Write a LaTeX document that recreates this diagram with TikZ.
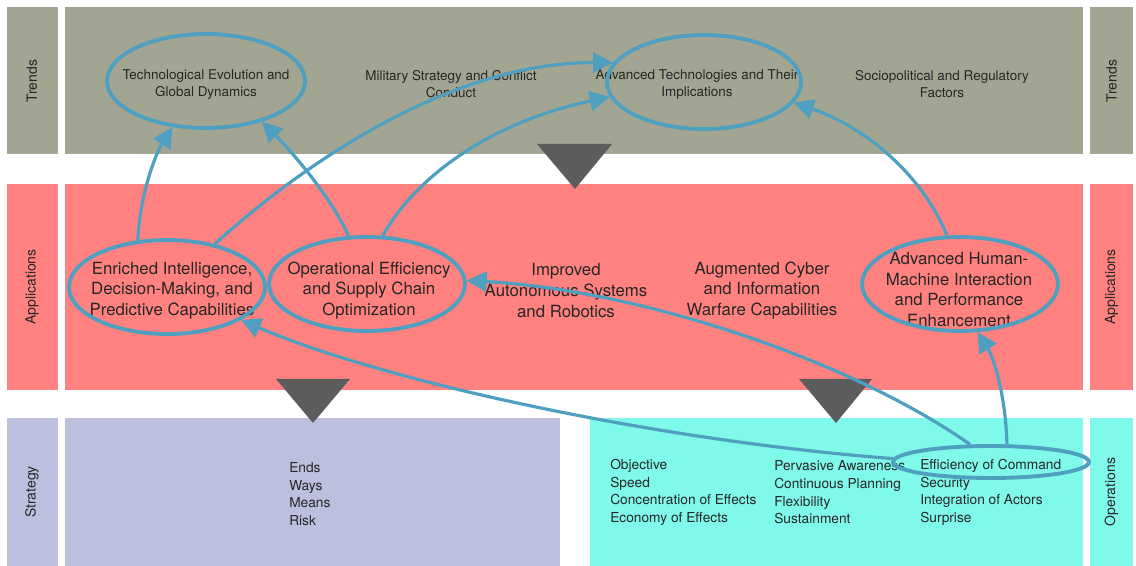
\documentclass[tikz,border=0pt]{standalone}
\usepackage{fontspec}
\setmainfont{TeX Gyre Heros}
\usetikzlibrary{arrows.meta,shapes.geometric}
\definecolor{trendcol}{HTML}{A2A591}
\definecolor{appcol}{HTML}{FF8280}
\definecolor{stratcol}{HTML}{BCBFDE}
\definecolor{opscol}{HTML}{7FF9EA}
\definecolor{linkcol}{HTML}{4E9FC0}
\definecolor{wedgecol}{HTML}{5C5C5C}
\definecolor{inkcol}{HTML}{262626}
\tikzset{main base/.style={text=inkcol,inner sep=0pt}, }
\tikzset{side node/.style={main base,rotate=90,font=\fontsize{10.5pt}{12pt}\selectfont}, }
\tikzset{trend node/.style={main base,align=center,font=\fontsize{10.1pt}{12.75pt}\selectfont}, }
\tikzset{app node/.style={main base,align=center,font=\fontsize{12.6pt}{15.4pt}\selectfont}, }
\tikzset{list node/.style={main base,align=left,anchor=west,font=\fontsize{10.3pt}{13.3pt}\selectfont}, }
\tikzset{ring/.style={ellipse,draw=linkcol,line width=2.9pt,minimum width=147pt,minimum height=70.5pt,inner sep=0pt}, }
\tikzset{linea/.style={-{Triangle[length=15pt,width=15pt]},draw=linkcol,line width=2.4pt}}
\tikzset{wedge/.style={fill=wedgecol}}

\begin{document}
\begin{tikzpicture}[x=0.75pt,y=-0.75pt]
\useasboundingbox (0,0) rectangle (1136,566);
% bands
\fill[trendcol] (7,7) rectangle (58,154);
\fill[trendcol] (65,7) rectangle (1083,154);
\fill[trendcol] (1090,7) rectangle (1133,154);
\fill[appcol] (7,184) rectangle (58,390);
\fill[appcol] (65,184) rectangle (1083,390);
\fill[appcol] (1090,184) rectangle (1133,390);
\fill[stratcol] (7,418) rectangle (58,566);
\fill[stratcol] (65,418) rectangle (560,566);
\fill[opscol] (590,418) rectangle (1083,566);
\fill[opscol] (1090,418) rectangle (1133,566);
%
\node[side node] (1) at (32,81) {Trends};
\node[side node] (2) at (32,287) {Applications};
\node[side node] (3) at (32,492) {Strategy};
\node[side node] (4) at (1111.5,81) {Trends};
\node[side node] (5) at (1111.5,287) {Applications};
\node[side node] (6) at (1111.5,492) {Operations};
% trends
\node[trend node] (7) at (206,84.5) {Technological Evolution and\\Global Dynamics};
\node[trend node] (8) at (451,84.5) {Military Strategy and Conflict\\Conduct};
\node[trend node] (9) at (697,84.5) {Advanced Technologies and Their\\Implications};
\node[trend node] (10) at (942,84.5) {Sociopolitical and Regulatory\\Factors};
% applications
\node[app node] (11) at (172,290.5) {Enriched Intelligence,\\Decision-Making, and\\Predictive Capabilities};
\node[app node] (12) at (369,290.5) {Operational Efficiency\\and Supply Chain\\Optimization};
\node[app node] (13) at (566,290.5) {Improved\\Autonomous Systems\\and Robotics};
\node[app node] (14) at (762,290.5) {Augmented Cyber\\and Information\\Warfare Capabilities};
\node[app node] (15) at (959,289.5) {Advanced Human-\\Machine Interaction\\and Performance\\Enhancement};
% strategy / operations
\node[list node] (16) at (289,494) {Ends\\Ways\\Means\\Risk};
\node[list node] (17) at (610,492.5) {Objective\\Speed\\Concentration of Effects\\Economy of Effects};
\node[list node] (18) at (774,492.5) {Pervasive Awareness\\Continuous Planning\\Flexibility\\Sustainment};
\node[list node] (19) at (920,492.5) {Efficiency of Command\\Security\\Integration of Actors\\Surprise};
%
\fill[wedge] (537,144) -- (612,144) -- (575,189) -- cycle;
\fill[wedge] (276,379) -- (350,379) -- (313,423) -- cycle;
\fill[wedge] (799,379) -- (872,379) -- (836,423) -- cycle;
% rings
\node[ring,minimum width=148.5pt] (21) at (206,81) {};
\node[ring,minimum width=145.5pt] (22) at (704,82) {};
\node[ring] (23) at (167,287) {};
\node[ring] (24) at (367,284) {};
\node[ring] (25) at (960,284) {};
\node[ring,minimum height=24pt] (26) at (991,462) {};

\foreach \x /\y /\p /\q in{23.122/21.234/{140,195}/{155,155},24.111/21.324/{330,195}/{290,150},23.42/22.168/{330,140}/{470,62},24.72/22.189/{420,170}/{500,120},25.105/22.347/{920,170}/{860,125},26.178/23.336/{650,440}/{380,380},26.140/24.2/{850,360}/{640,290},26.48/25.290/{1006,400}/{995,360}}
  \draw[linea] (\x) .. controls (\p) and (\q) .. (\y);
%
\end{tikzpicture}
\end{document}
